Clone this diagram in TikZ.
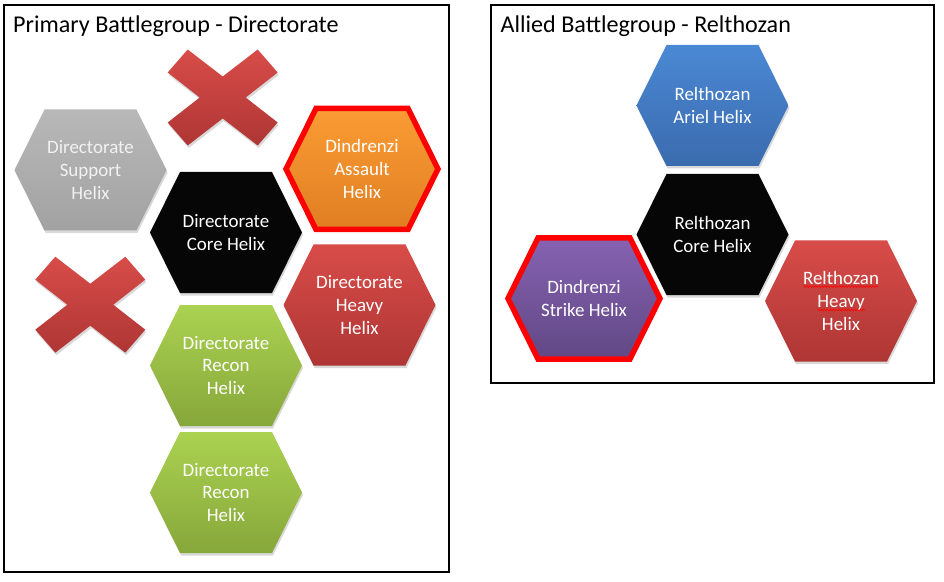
\documentclass[tikz,border=0pt]{standalone}
\usepackage{fontspec}
\setmainfont{Carlito}
\usetikzlibrary{calc,shadows,decorations.pathmorphing}
\definecolor{grayT}{HTML}{B8B8B8}
\definecolor{grayB}{HTML}{A2A2A2}
\definecolor{orT}{HTML}{FA9C34}
\definecolor{orB}{HTML}{E07E22}
\definecolor{rdT}{HTML}{D84C49}
\definecolor{rdB}{HTML}{AE3634}
\definecolor{grT}{HTML}{ABD251}
\definecolor{grB}{HTML}{86A73A}
\definecolor{blT}{HTML}{4B88D4}
\definecolor{blB}{HTML}{3A6BAE}
\definecolor{puT}{HTML}{8662B2}
\definecolor{puB}{HTML}{614884}
\definecolor{coreK}{HTML}{060606}
\definecolor{txtG}{HTML}{F2F2F2}
\newcommand{\hexat}[2]{\path[#2] ($(#1)+(-76,0)$) -- ++(30,-60.5) -- ++(92,0) -- ++(30,60.5) -- ++(-30,60.5) -- ++(-92,0) -- cycle;}
\newcommand{\crossat}[1]{\path[crossfill] ($(#1)+(-35,-48)$) -- ++(35,27) -- ++(35,-27) -- ++(20,23) -- ++(-32,25) -- ++(32,25) -- ++(-20,23) -- ++(-35,-27) -- ++(-35,27) -- ++(-20,-23) -- ++(32,-25) -- ++(-32,-25) -- cycle;}
\tikzset{
  shad/.style={drop shadow={shadow xshift=1bp,shadow yshift=-2.5bp,opacity=0.3}},
  hexgray/.style={shad,top color=grayT,bottom color=grayB},
  hexblack/.style={shad,fill=coreK},
  hexorange/.style={shad,top color=orT,bottom color=orB,draw=red,line width=5.5bp,line join=miter},
  hexred/.style={shad,top color=rdT,bottom color=rdB},
  hexgreen/.style={shad,top color=grT,bottom color=grB},
  hexblue/.style={shad,top color=blT,bottom color=blB},
  hexpurple/.style={shad,top color=puT,bottom color=puB,draw=red,line width=5.5bp,line join=miter},
  crossfill/.style={shad,top color=rdT,bottom color=rdB,line join=round},
  label/.style={align=center,text=white,font=\fontsize{19}{23}\selectfont,inner sep=0pt},
  title/.style={anchor=base west,font=\fontsize{24.2}{29}\selectfont,inner sep=0pt},
  panel/.style={draw=black,line width=1.3bp},
  squig/.style={draw=red,line width=0.6bp,decorate,decoration={snake,amplitude=0.9bp,segment length=3bp}}
}
\begin{document}
\begin{tikzpicture}[x=1bp,y=-1bp]
\useasboundingbox (0,0) rectangle (944,582);
% panels
\draw[panel] (4,5) rectangle (449,572);
\draw[panel] (491,5) rectangle (934,383);
\node[title] (t1) at (13,32.5) {Primary Battlegroup - Directorate};
\node[title] (t2) at (500.5,32.5) {Allied Battlegroup - Relthozan};
% centres
\coordinate (sup) at (90.5,170);
\coordinate (core) at (226,232.5);
\coordinate (asl) at (362,169);
\coordinate (hvy) at (359.5,305);
\coordinate (rc1) at (226,365.5);
\coordinate (rc2) at (226,492.5);
\coordinate (x1) at (222.7,97.5);
\coordinate (x2) at (90.3,304.7);
\coordinate (ariel) at (712.5,105.5);
\coordinate (rcore) at (712.5,234.5);
\coordinate (strike) at (584,298.5);
\coordinate (rhvy) at (841,301);
% crosses
\crossat{x1}
\crossat{x2}
% hexes left
\hexat{sup}{hexgray}
\hexat{core}{hexblack}
\hexat{asl}{hexorange}
\hexat{hvy}{hexred}
\hexat{rc1}{hexgreen}
\hexat{rc2}{hexgreen}
% hexes right
\hexat{ariel}{hexblue}
\hexat{rcore}{hexblack}
\hexat{strike}{hexpurple}
\hexat{rhvy}{hexred}
% labels
\node[label,text=txtG] (lsup) at (sup) {Directorate\\Support\\Helix};
\node[label] (lcore) at (core) {Directorate\\Core Helix};
\node[label] (lasl) at (asl) {Dindrenzi\\Assault\\Helix};
\node[label] (lhvy) at (hvy) {Directorate\\Heavy\\Helix};
\node[label] (lrc1) at (rc1) {Directorate\\Recon\\Helix};
\node[label] (lrc2) at (rc2) {Directorate\\Recon\\Helix};
\node[label] (lariel) at (ariel) {Relthozan\\Ariel Helix};
\node[label] (lrcore) at (rcore) {Relthozan\\Core Helix};
\node[label] (lstrike) at (strike) {Dindrenzi\\Strike Helix};
\node[label] (lrhvy) at (rhvy) {Relthozan\\Heavy\\Helix};
% spell-check underlines
\coordinate (u1a) at ($(rhvy)+(-38,-14.5)$);
\coordinate (u1b) at ($(rhvy)+(37,-14.5)$);
\coordinate (u2a) at ($(rhvy)+(-23.5,9)$);
\coordinate (u2b) at ($(rhvy)+(24,9)$);
\draw[squig] (u1a) -- (u1b);
\draw[squig] (u2a) -- (u2b);
\end{tikzpicture}
\end{document}
